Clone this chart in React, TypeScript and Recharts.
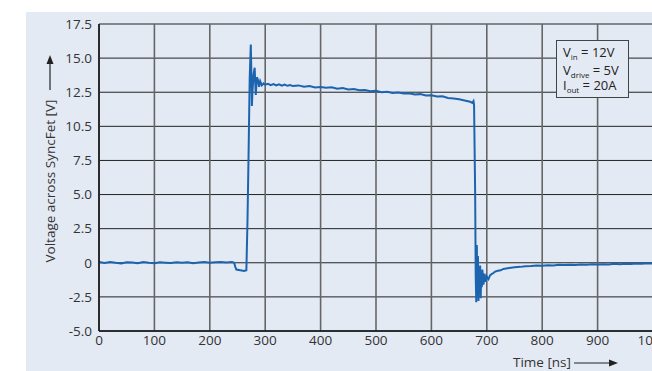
import { LineChart, Line, XAxis, YAxis, CartesianGrid } from 'recharts';

// time axis in ns, voltage in V
const timeNs = [
  0, 10, 20, 30, 40, 50, 60, 70, 80, 90, 100, 110, 120, 130, 140, 150, 160, 170, 180, 190, 200, 210, 220, 230, 240,
  244, 246, 248, 255, 262, 266, 268, 270, 272, 274, 275, 276, 277, 279, 281, 282, 283, 285, 287, 289, 291, 294, 297, 300,
  305, 310, 315, 320, 325, 330, 335, 340, 345, 350, 360, 370, 380, 390, 400, 410, 420, 430, 440, 450, 460, 470, 480, 490, 500,
  510, 520, 530, 540, 550, 560, 570, 580, 590, 600, 610, 620, 630, 640, 650, 660, 670, 674, 676, 677,
  679, 680, 681, 682, 683, 684, 685, 686, 687, 688, 689, 690, 691, 692, 694, 696, 698, 700, 703, 706,
  710, 715, 720, 725, 730, 740, 750, 760, 770, 780, 790, 800, 810, 820, 830, 840, 850, 860, 870, 880,
  890, 900, 910, 920, 930, 940, 950, 960, 970, 980, 990, 1000,
];
const voltage = [
  0.05, -0.02, 0.06, 0.0, -0.05, 0.04, 0.02, -0.03, 0.05, 0.0, -0.04, 0.03, 0.01, -0.02, 0.04, 0.0, 0.03, -0.03, 0.02, 0.05, 0.0, 0.04, 0.06, 0.02, 0.05,
  0.0, -0.3, -0.5, -0.55, -0.6, -0.55, 3.0, 8.0, 13.5, 16.0, 14.0, 11.5, 12.5, 13.8, 14.3, 13.2, 12.3, 13.6, 13.4, 12.9, 13.3, 13.0, 13.15, 13.05,
  13.12, 13.02, 13.1, 13.0, 13.08, 12.98, 13.06, 12.97, 13.03, 12.95, 13.0, 12.9, 12.95, 12.85, 12.88, 12.83, 12.86, 12.76, 12.8, 12.7, 12.74, 12.64, 12.66, 12.58, 12.6,
  12.5, 12.54, 12.45, 12.48, 12.4, 12.43, 12.33, 12.36, 12.26, 12.28, 12.18, 12.2, 12.08, 12.04, 11.98, 11.9, 11.8, 11.72, 11.85, 11.6,
  5.0, -1.0, -2.9, 1.3, -2.5, 0.5, -2.8, -0.5, -2.2, -0.2, -2.6, -0.6, -1.8, -0.5, -1.6, -0.8, -1.4, -1.0, -1.2, -0.9,
  -0.8, -0.65, -0.58, -0.55, -0.45, -0.38, -0.32, -0.3, -0.25, -0.24, -0.2, -0.22, -0.18, -0.2, -0.15, -0.17, -0.14, -0.16, -0.12, -0.15,
  -0.1, -0.13, -0.1, -0.12, -0.08, -0.1, -0.07, -0.09, -0.06, -0.07, -0.04, -0.05,
];

const yTicks = [-5, -2.5, 0, 2.5, 5, 7.5, 10, 12.5, 15, 17.5];
const yTickLabels = ['-5.0', '-2.5', '0', '2.5', '5.0', '7.5', '10.5', '12.5', '15.0', '17.5'];
const xTicks = [0, 100, 200, 300, 400, 500, 600, 700, 800, 900, 1000];

const data = timeNs.map((t, i) => ({ t, v: voltage[i] }));

const bg = '#e4eaf4';
const font = '"Open Sans", sans-serif';
const fs = 13.5;

const subStyle = { fontSize: 8, lineHeight: 0, position: 'relative' as const, top: 3 };

export default function App() {
  return (
    <div style={{ position: 'fixed', left: 0, top: 0, width: 652, height: 371, overflow: 'hidden', background: '#fff', fontFamily: font }}>
      <div style={{ position: 'absolute', left: 26, top: 12, right: 0, bottom: 0, background: bg }} />
      <div style={{ position: 'absolute', left: 0, top: 0 }}>
        <LineChart width={700} height={371} data={data} margin={{ top: 24, right: 47, bottom: 10, left: 0 }}>
          <CartesianGrid vertical={false} stroke="#222" strokeWidth={1} />
          <CartesianGrid horizontal={false} stroke="#666" strokeWidth={1.6} />
          <XAxis
            dataKey="t"
            type="number"
            domain={[0, 1000]}
            ticks={xTicks}
            height={30}
            tickLine={false}
            tickSize={2}
            axisLine={{ stroke: '#111', strokeWidth: 1.5 }}
            tick={{ fill: '#333', fontSize: fs, fontFamily: font }}
          />
          <YAxis
            type="number"
            domain={[-5, 17.5]}
            ticks={yTicks}
            width={99}
            tickLine={false}
            tickSize={5}
            axisLine={{ stroke: '#111', strokeWidth: 1.5 }}
            tickFormatter={(v: number) => yTickLabels[yTicks.indexOf(v)]}
            tick={{ fill: '#333', fontSize: fs, fontFamily: font }}
          />
          <Line type="linear" dataKey="v" stroke="#1c64b0" strokeWidth={2} dot={false} isAnimationActive={false} />
        </LineChart>
      </div>

      {/* y axis title with arrow */}
      <div
        style={{
          position: 'absolute', left: 50, top: 181, transform: 'translate(-50%, -50%) rotate(-90deg)',
          whiteSpace: 'nowrap', fontSize: fs, color: '#333',
        }}
      >
        Voltage across SyncFet [V]
      </div>
      <svg style={{ position: 'absolute', left: 0, top: 0 }} width={652} height={371}>
        <line x1={50} y1={90} x2={50} y2={62} stroke="#222" strokeWidth={1.2} />
        <polygon points="50,55 46.5,64 53.5,64" fill="#222" />
        <line x1={574} y1={363} x2={610} y2={363} stroke="#222" strokeWidth={1.2} />
        <polygon points="618,363 609,359.5 609,366.5" fill="#222" />
      </svg>
      <div style={{ position: 'absolute', left: 513, top: 353, fontSize: fs, color: '#333', whiteSpace: 'nowrap', lineHeight: '18px' }}>
        Time [ns]
      </div>

      {/* operating conditions box */}
      <div
        style={{
          position: 'absolute', left: 556, top: 40, width: 73, height: 58, border: '1px solid #444',
          background: bg, fontSize: 13, color: '#222', lineHeight: '15px', padding: '4px 0 0 6px', boxSizing: 'border-box',
          whiteSpace: 'nowrap',
        }}
      >
        <div style={{ height: 18 }}>V<span style={subStyle}>in</span> = 12V</div>
        <div style={{ height: 15 }}>V<span style={subStyle}>drive</span> = 5V</div>
        <div style={{ height: 15 }}>I<span style={subStyle}>out</span> = 20A</div>
      </div>
    </div>
  );
}
